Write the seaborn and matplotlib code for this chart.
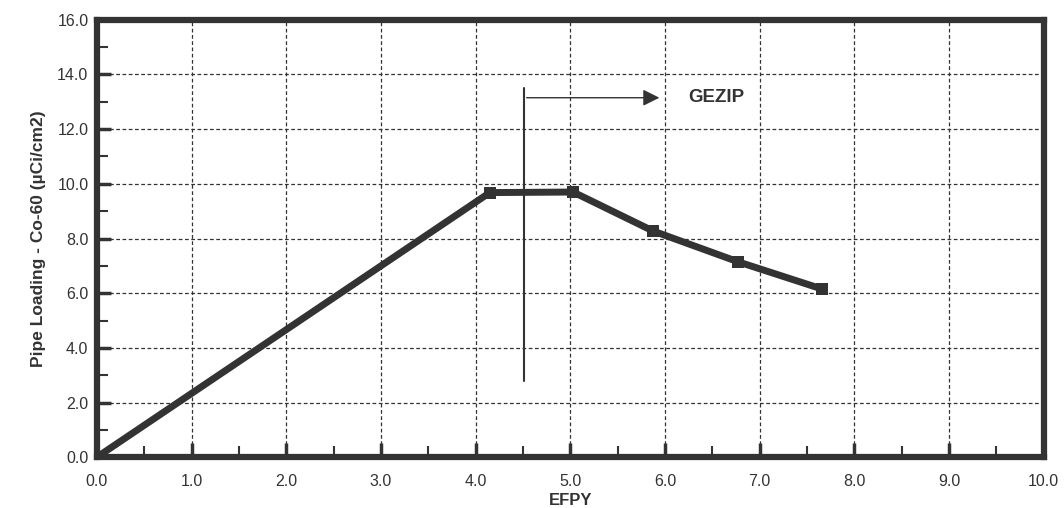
import numpy as np
import pandas as pd
import seaborn as sns
import matplotlib.pyplot as plt
from matplotlib.ticker import MultipleLocator

# Data
efpy = [0.0, 4.15, 5.03, 5.87, 6.77, 7.66]
loading = [0.0, 9.68, 9.70, 8.28, 7.15, 6.15]

# GEZIP marker
gezip_x = 4.51
gezip_span = [2.8, 13.5]
arrow_y = 13.15
arrow_end = 5.97

sns.set_theme(style="white")
plt.rcParams['font.family'] = ['Liberation Sans', 'DejaVu Sans']

df = pd.DataFrame({'EFPY': efpy, 'Loading': loading})

fig = plt.figure(figsize=(10.64, 5.08), dpi=100)
ax = fig.add_axes([0.091, 0.100, 0.890, 0.861])

sns.lineplot(data=df, x='EFPY', y='Loading', ax=ax, color='#333333',
             linewidth=5, marker='s', markersize=9, markeredgewidth=0)

# GEZIP vertical line and arrow
ax.plot([gezip_x, gezip_x], gezip_span, color='#333333', linewidth=1.5)
ax.annotate('', xy=(arrow_end, arrow_y), xytext=(gezip_x, arrow_y),
            arrowprops=dict(arrowstyle='-|>', color='#333333', lw=1.0,
                            mutation_scale=25))
ax.text(arrow_end + 0.28, arrow_y, 'GEZIP', fontsize=13.5, fontweight='bold',
        color='#333333', va='center', ha='left')

ax.set_xlim(0, 10)
ax.set_ylim(0, 16)
ax.xaxis.set_major_locator(MultipleLocator(1.0))
ax.xaxis.set_minor_locator(MultipleLocator(0.5))
ax.yaxis.set_major_locator(MultipleLocator(2.0))
ax.yaxis.set_minor_locator(MultipleLocator(1.0))
ax.xaxis.set_major_formatter(plt.FormatStrFormatter('%.1f'))
ax.yaxis.set_major_formatter(plt.FormatStrFormatter('%.1f'))

ax.grid(True, which='major', color='#333333', linestyle=(0, (3, 2)), linewidth=0.9)
ax.tick_params(which='both', direction='in', color='#333333', labelsize=11.5,
               labelcolor='#333333', bottom=True, left=True)
ax.tick_params(which='major', length=10, width=2.5, pad=6)
ax.tick_params(which='minor', length=8, width=1.5)
ax.tick_params(axis='x', which='major', pad=12)

for side in ['top', 'bottom', 'left', 'right']:
    ax.spines[side].set_visible(True)
    ax.spines[side].set_linewidth(4.5)
    ax.spines[side].set_color('#333333')

ax.set_xlabel('EFPY', fontsize=12, fontweight='bold', color='#333333', labelpad=3)
ax.set_ylabel('Pipe Loading - Co-60 (\u00b5Ci/cm2)', fontsize=12.5, fontweight='bold',
              color='#333333', labelpad=8)

plt.savefig('out.png', dpi=100)
